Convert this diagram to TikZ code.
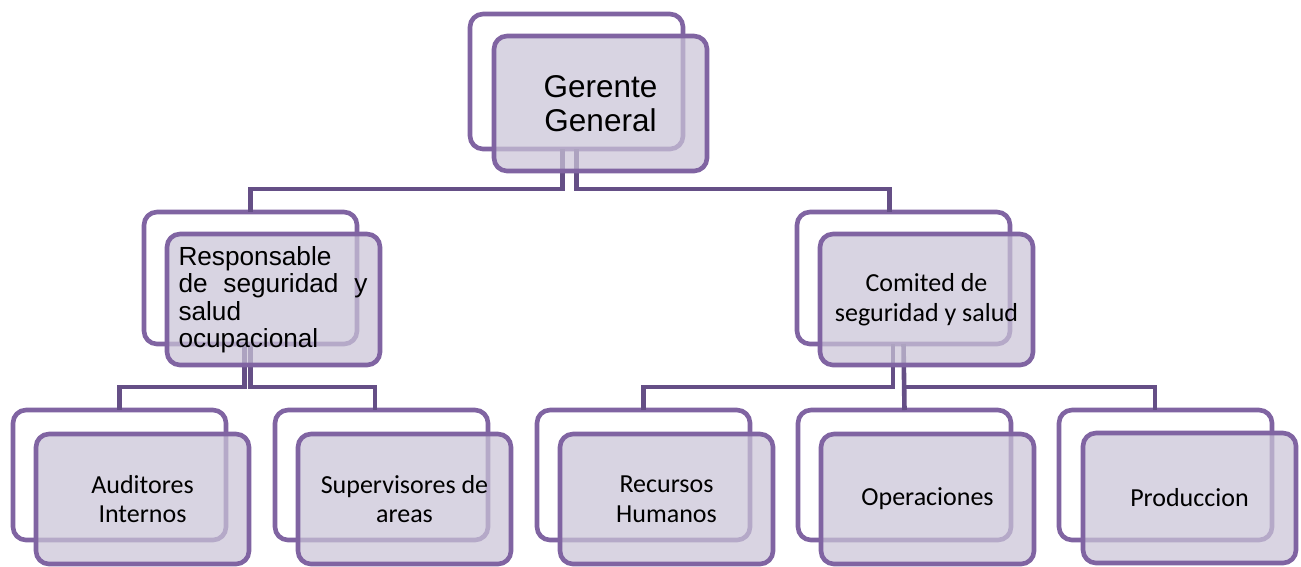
\documentclass[tikz,border=0pt]{standalone}
\usepackage{fontspec}
\newfontfamily\arialf{Liberation Sans}
\newfontfamily\calf{Carlito}
\definecolor{bord}{HTML}{8064A2}
\definecolor{conn}{HTML}{654F86}
\definecolor{frontfill}{HTML}{CAC4D7}
\tikzset{
  backbox/.style={draw=bord, line width=4.6pt, rounded corners=13pt, fill=white,
    minimum width=213pt, minimum height=#1, inner sep=0pt, outer sep=0pt, anchor=north west},
  backbox/.default=130pt,
  frontbox/.style={draw=bord, line width=4.6pt, rounded corners=13pt, fill=frontfill,
    fill opacity=0.72, text opacity=1, draw opacity=1,
    minimum width=213pt, minimum height=#1, inner sep=0pt, outer sep=0pt,
    anchor=north west, align=center, font=\calf\fontsize{26}{29.5}\selectfont},
  frontbox/.default=130pt,
  link/.style={draw=conn, line width=4.6pt}
}
\begin{document}
\begin{tikzpicture}[x=1pt,y=-1pt]
\useasboundingbox (0,0) rectangle (1301,566);
% back frames
\node[backbox=135pt] (ggb) at (470,14) {};
\node[backbox=132pt] (rsb) at (144,212) {};
\node[backbox=132pt] (csb) at (797,212) {};
\node[backbox] (aib) at (13,410) {};
\node[backbox] (sab) at (275,410) {};
\node[backbox] (rhb) at (537,410) {};
\node[backbox] (opb) at (798,410) {};
\node[backbox] (prb) at (1059,410) {};
% connectors
\draw[link] ([xshift=-14pt]ggb.south) -- ++(0,40) -| (rsb.north);
\draw[link] (ggb.south) -- ++(0,40) -| ([xshift=-14pt]csb.north);
\draw[link] ([xshift=-6pt]rsb.south) -- ++(0,43) -| (aib.north);
\draw[link] (rsb.south) -- ++(0,43) -| ([xshift=-6.5pt]sab.north);
\draw[link] ([xshift=-10.5pt]csb.south) -- ++(0,43) -| (rhb.north);
\draw[link] (csb.south) -- (opb.north);
\draw[link] ([yshift=-43pt]csb.south) -| ([xshift=-10.5pt]prb.north);
% front boxes
\node[frontbox=135pt, font=\arialf\fontsize{31.5}{34}\selectfont] (gg) at (494,36) {Gerente\\General};
\node[frontbox=131pt, text width=190pt, align=left, font=\arialf\fontsize{26.2}{27.5}\selectfont] (rs) at (167,234)
  {Responsable\\\makebox[189pt][l]{de\hfill seguridad\hfill y}\\salud\\ocupacional};
\node[frontbox=131pt] (cs) at (820,234) {Comited de\\seguridad y salud};
\node[frontbox, yshift=-2pt] (ai) at (36,432) {Auditores\\Internos};
\node[frontbox, yshift=-2pt] (sa) at (298,432) {Supervisores de\\areas};
\node[frontbox, yshift=-2pt] (rh) at (560,432) {Recursos\\Humanos};
\node[frontbox, yshift=-2pt] (op) at (821,432) {Operaciones};
\node[frontbox, yshift=-1pt] (pr) at (1083,432) {Produccion};
\end{tikzpicture}
\end{document}
